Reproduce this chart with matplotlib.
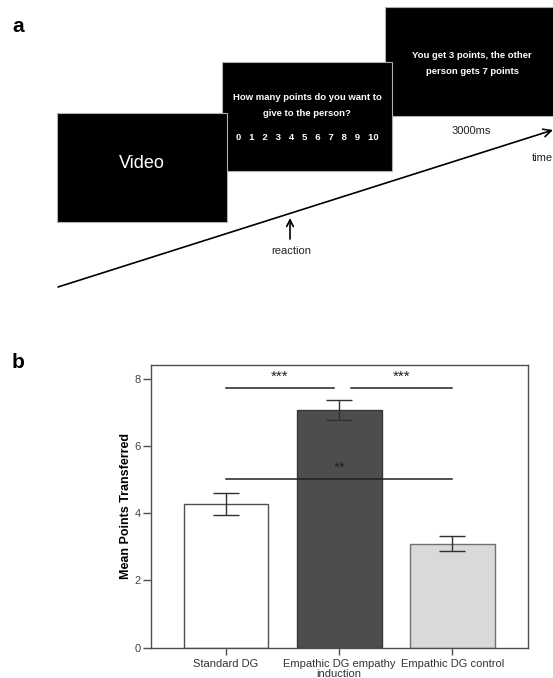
import matplotlib
matplotlib.use("Agg")
import matplotlib.pyplot as plt
from matplotlib.patches import Rectangle

plt.rcParams['font.family'] = ['Liberation Sans', 'DejaVu Sans']

# ---------------- data ----------------
categories = ["Standard DG", "Empathic DG empathy\ninduction", "Empathic DG control"]
means = [4.27, 7.07, 3.10]
errors = [0.33, 0.30, 0.21]
bar_colors = ["#ffffff", "#4d4d4d", "#d9d9d9"]
bar_edges = ["#505050", "#383838", "#707070"]
yticks = [0, 2, 4, 6, 8]
sig_pairs = [(0, 0.95), (1.1, 2.0), (0, 2.0)]
sig_heights = [7.74, 7.74, 5.01]
sig_labels = ["***", "***", "**"]

choice_values = ["0", "1", "2", "3", "4", "5", "6", "7", "8", "9", "10"]

W, H = 553, 678
fig = plt.figure(figsize=(W / 100, H / 100), dpi=100)

# ---------------- panel a (schematic in pixel coordinates) ----------------
ax0 = fig.add_axes([0, 0, 1, 1])
ax0.set_xlim(0, W)
ax0.set_ylim(H, 0)
ax0.axis("off")

box_font = dict(color="white", fontsize=6.8, fontweight="bold", ha="center",
                va="center", zorder=3)

# boxes: (x, y, w, h) back-to-front
boxes = [(385, 7, 175, 109), (222, 62, 170, 109), (57, 113, 170, 109)]
for (bx, by, bw, bh) in boxes:
    ax0.add_patch(Rectangle((bx, by), bw, bh, facecolor="black",
                            edgecolor="#b0b0b0", linewidth=0.8, zorder=2))

ax0.text(142, 164, "Video", color="white", fontsize=13, ha="center", va="center", zorder=3)
ax0.text(307, 98, "How many points do you want to", **box_font)
ax0.text(307, 114, "give to the person?", **box_font)
ax0.text(307, 138, "   ".join(choice_values), **box_font)
ax0.text(472, 55, "You get 3 points, the other", **box_font)
ax0.text(472, 71, "person gets 7 points", **box_font)

ax0.annotate("", xy=(553, 130), xytext=(58, 287),
             arrowprops=dict(arrowstyle="->", color="black", lw=1.2,
                             shrinkA=0, shrinkB=0, mutation_scale=14), zorder=4)
ax0.annotate("", xy=(290, 218), xytext=(290, 239),
             arrowprops=dict(arrowstyle="->", color="black", lw=1.2,
                             shrinkA=0, shrinkB=0, mutation_scale=12), zorder=4)
ax0.text(291, 251, "reaction", fontsize=8, ha="center", va="center", color="#222222")
ax0.text(471, 131, "3000ms", fontsize=8, ha="center", va="center", color="#222222")
ax0.text(532, 158, "time", fontsize=8, ha="left", va="center", color="#222222")

ax0.text(12, 27, "a", fontsize=15, fontweight="bold", ha="left", va="center")
ax0.text(12, 362, "b", fontsize=15, fontweight="bold", ha="left", va="center")

# ---------------- panel b (bar chart) ----------------
ax = fig.add_axes([150.7 / W, 1 - 647.7 / H, (527.7 - 150.7) / W, (647.7 - 364.7) / H])
x = list(range(len(categories)))
ax.bar(x, means, width=0.75, color=bar_colors, edgecolor=bar_edges, linewidth=1.0, zorder=2)
ax.errorbar(x, means, yerr=errors, fmt="none", ecolor="#303030", elinewidth=1.0,
            capsize=9.5, capthick=1.0, zorder=3)

for (x0, x1), h, lab in zip(sig_pairs, sig_heights, sig_labels):
    ax.plot([x0, x1], [h, h], color="#202020", lw=1.1, zorder=4)
    ax.text((x0 + x1) / 2, h + 0.12, lab, ha="center", va="bottom", fontsize=11,
            color="#202020", zorder=4)

ax.set_xlim(-0.665, 2.665)
ax.set_ylim(0, 8.42)
ax.set_yticks(yticks)
ax.set_yticklabels([str(t) for t in yticks], fontsize=8, color="#444444")
ax.set_xticks(x)
ax.set_xticklabels(categories, fontsize=8, color="#333333", linespacing=1.0)
ax.tick_params(axis="y", direction="out", length=6, width=1, color="#505050", pad=1)
ax.tick_params(axis="x", direction="out", length=5, width=1, color="#505050", pad=3)
for s in ax.spines.values():
    s.set_color("#505050")
    s.set_linewidth(1.0)
ax.set_ylabel("Mean Points Transferred", fontsize=9, fontweight="bold", labelpad=2)

fig.savefig("out.png", dpi=100)
